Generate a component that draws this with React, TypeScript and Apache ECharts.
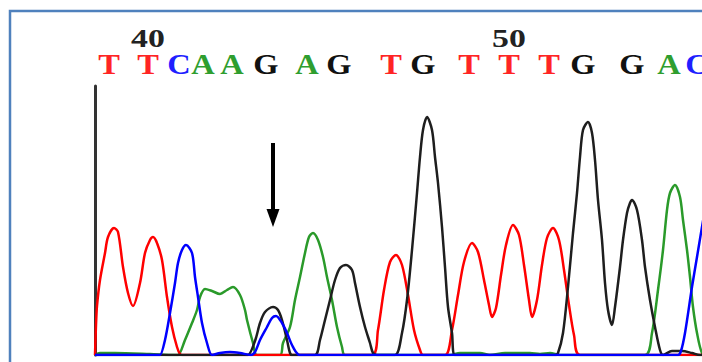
import React, { useEffect, useRef } from "react";
import * as echarts from "echarts";

// Trace values: [scan position, signal intensity]
const traceA: [number, number][] = [
  [0, 0], [5, 2], [20, 2], [55, 1], [80, 0], [83, 0], [90, 15], [97, 32], [102, 45], [105, 58], [110, 66],
  [117, 64], [125, 61], [132, 65], [138, 68], [145, 60], [150, 45], [152, 35], [158, 12], [162, 0],
  [185, 0], [188, 12], [195, 28], [200, 55], [205, 78], [210, 102], [214, 118], [218, 122], [223, 115],
  [228, 98], [232, 78], [237, 55], [242, 28], [247, 8], [250, 0], [355, 0], [365, 2], [385, 2], [395, 0],
  [410, 2], [435, 2], [445, 1], [455, 2], [465, 0], [550, 0], [557, 22], [563, 65], [568, 105], [572, 145],
  [575, 162], [580, 170], [585, 158], [588, 135], [592, 105], [595, 78], [598, 48], [602, 22], [607, 2], [612, 0],
];
const traceC: [number, number][] = [
  [0, 0], [63, 0], [65, 0], [70, 15], [75, 42], [80, 72], [83, 92], [87, 105], [91, 110], [97, 102],
  [100, 78], [103, 58], [107, 32], [112, 12], [117, 0], [125, 2], [135, 3], [145, 2], [156, 0], [160, 3],
  [165, 15], [172, 28], [177, 37], [181, 39], [187, 32], [192, 22], [198, 8], [205, 0], [583, 0],
  [586, 4], [590, 22], [597, 68], [602, 98], [607, 128], [612, 158],
];
const traceG: [number, number][] = [
  [0, 0], [150, 0], [153, 0], [160, 14], [165, 32], [170, 43], [178, 48], [183, 45], [187, 35], [192, 15],
  [195, 2], [197, 0], [220, 0], [225, 15], [230, 35], [235, 55], [240, 75], [245, 87], [251, 90], [257, 85],
  [260, 72], [265, 48], [270, 28], [275, 12], [278, 2], [282, 0], [300, 0], [307, 22], [312, 55], [317, 105],
  [322, 162], [325, 198], [328, 225], [332, 238], [337, 225], [340, 198], [343, 172], [347, 128], [350, 88],
  [353, 48], [357, 22], [360, 0], [460, 0], [463, 2], [468, 22], [473, 68], [478, 122], [482, 162], [485, 198],
  [488, 225], [493, 233], [497, 222], [500, 195], [503, 155], [507, 115], [510, 72], [513, 45], [517, 30],
  [520, 48], [525, 88], [528, 115], [532, 142], [535, 152], [537, 155], [542, 145], [547, 115], [550, 88],
  [555, 55], [560, 28], [565, 5], [568, 0], [577, 4], [587, 4], [597, 2], [605, 0], [612, 0],
];
const traceT: [number, number][] = [
  [0, 0], [1, 30], [2, 49], [5, 75], [10, 102], [13, 118], [19, 127], [23, 123], [28, 88], [33, 62], [38, 49],
  [45, 72], [50, 102], [55, 115], [58, 118], [62, 112], [67, 95], [72, 58], [77, 28], [82, 8], [85, 1], [88, 0],
  [277, 0], [283, 25], [289, 65], [295, 93], [301, 100], [307, 90], [313, 60], [319, 25], [325, 5], [328, 0],
  [350, 0], [357, 25], [363, 60], [369, 93], [377, 112], [383, 103], [389, 75], [394, 50], [397, 38],
  [401, 47], [406, 80], [411, 110], [418, 130], [424, 120], [429, 90], [434, 55], [437, 38], [442, 55],
  [447, 90], [452, 117], [458, 127], [464, 115], [469, 85], [474, 50], [479, 20], [485, 0], [612, 0],
];

// Base calls and their scan positions
const bases = ["T", "T", "C", "A", "A", "G", "A", "G", "T", "G", "T", "T", "T", "G", "G", "A", "C"];
const basePositions = [14, 53, 84, 108, 137, 171, 212, 244, 296, 328, 374, 414, 454, 488, 537, 574, 602];
const firstBaseNumber = 39;
const arrowPosition = 178;

const baseColors: Record<string, string> = {
  A: "#2f9e2f",
  C: "#1f1fff",
  G: "#111111",
  T: "#ff2424",
};
const traceColors: Record<string, string> = {
  A: "#2a9a2a",
  C: "#0000ff",
  G: "#1e1e1e",
  T: "#ff0000",
};

export default function App() {
  const ref = useRef<HTMLDivElement>(null);
  useEffect(() => {
    if (!ref.current) return;
    const chart = echarts.init(ref.current, null, { renderer: "svg" });
    const mk = (name: string, data: [number, number][]) => ({
      type: "line",
      name,
      data,
      smooth: 0.3,
      showSymbol: false,
      symbol: "none",
      lineStyle: { color: traceColors[name], width: 2.5 },
      itemStyle: { color: traceColors[name] },
      silent: true,
    });
    chart.setOption({
      animation: false,
      backgroundColor: "#ffffff",
      grid: { left: 95, right: 0, top: 86, bottom: 7 },
      xAxis: {
        type: "value",
        min: 0,
        max: 607,
        show: false,
      },
      yAxis: {
        type: "value",
        min: 0,
        max: 269,
        axisLine: { show: true, lineStyle: { color: "#333333", width: 3 } },
        axisTick: { show: false },
        axisLabel: { show: false },
        splitLine: { show: false },
      },
      series: [mk("A", traceA), mk("T", traceT), mk("G", traceG), mk("C", traceC)],
    });

    const toPx = (x: number, y: number) =>
      chart.convertToPixel({ gridIndex: 0 } as any, [x, y]) as number[];

    const elements: any[] = [
      {
        type: "rect",
        shape: { x: 10, y: 11, width: 800, height: 500 },
        style: { fill: "none", stroke: "#4f81bd", lineWidth: 2.5 },
        silent: true,
      },
    ];
    bases.forEach((b, i) => {
      const [px] = toPx(basePositions[i], 0);
      elements.push({
        type: "text",
        x: px,
        y: 65,
        scaleX: 1.12,
        style: {
          text: b,
          fill: baseColors[b],
          font: 'bold 29px "Liberation Serif", "Times New Roman", serif',
          textAlign: "center",
          textVerticalAlign: "middle",
        },
        silent: true,
      });
      const num = firstBaseNumber + i;
      if (num % 10 === 0) {
        elements.push({
          type: "text",
          x: px,
          y: 38,
          scaleX: 1.3,
          style: {
            text: String(num),
            fill: "#222222",
            font: 'bold 26px "Liberation Serif", "Times New Roman", serif',
            textAlign: "center",
            textVerticalAlign: "middle",
          },
          silent: true,
        });
      }
    });
    const [ax] = toPx(arrowPosition, 0);
    elements.push({
      type: "line",
      shape: { x1: ax, y1: 143, x2: ax, y2: 212 },
      style: { stroke: "#000000", lineWidth: 4 },
      silent: true,
    });
    elements.push({
      type: "polygon",
      shape: { points: [[ax - 6.5, 209], [ax + 6.5, 209], [ax, 227]] },
      style: { fill: "#000000" },
      silent: true,
    });
    chart.setOption({ graphic: elements });
    return () => chart.dispose();
  }, []);
  return (
    <div
      ref={ref}
      style={{ position: "fixed", left: 0, top: 0, width: 702, height: 362, background: "#fff" }}
    />
  );
}
